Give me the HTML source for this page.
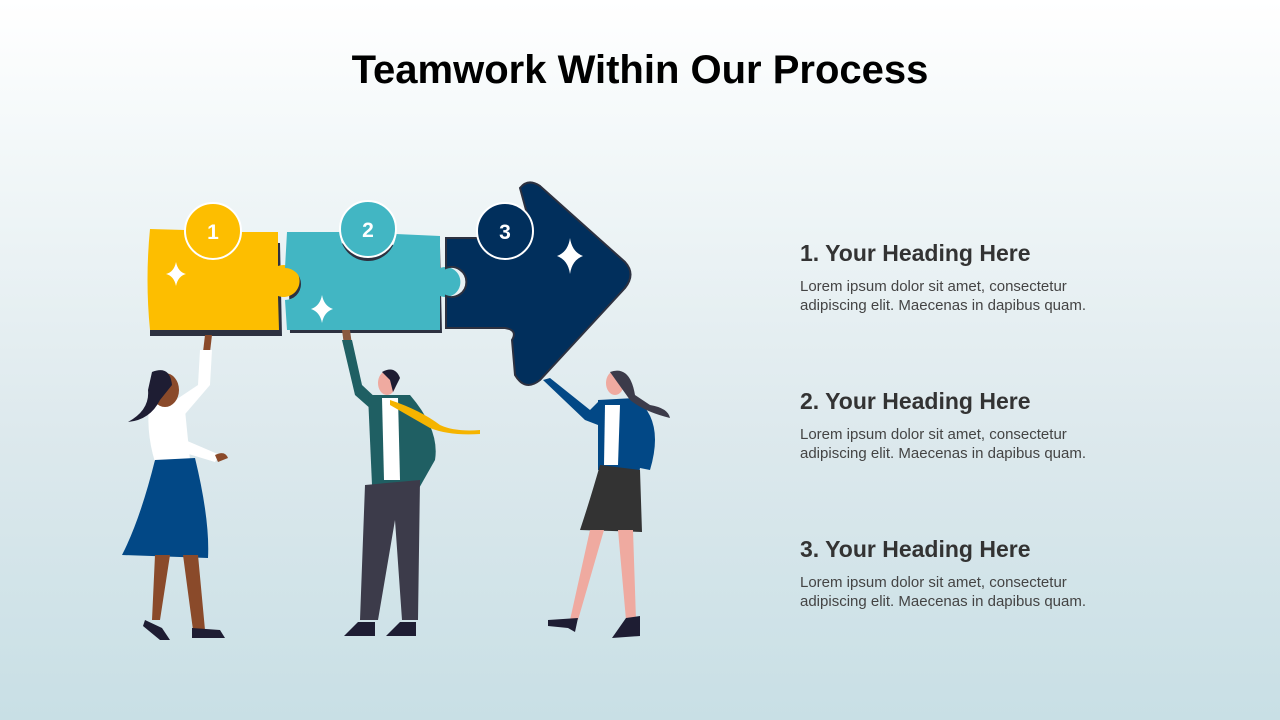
<!DOCTYPE html>
<html><head><style>
body{margin:0;width:1280px;height:720px;overflow:hidden;background:linear-gradient(#ffffff 0%,#f3f8f9 20%,#dde9ed 60%,#c8dfe5 100%);font-family:"Liberation Sans",sans-serif;position:relative}
h1{position:absolute;top:48px;left:0;width:1280px;text-align:center;margin:0;font-size:40px;font-weight:bold;color:#000;}
.item{position:absolute;left:800px;width:325px}
.item h2{margin:0;font-size:23px;font-weight:bold;color:#333;}
.item p{margin:10px 0 0;font-size:15px;line-height:19px;color:#444}
svg{position:absolute;left:0;top:0}
</style></head><body>
<h1>Teamwork Within Our Process</h1>
<svg width="1280" height="720">
<path d="M150 240 L280 243 L282 336 L150 336 Z" fill="#2d3140"/>
<path d="M288 242 L440 246 L442 333 L290 333Z" fill="#2d3140"/>
<path d="M150 229 L185 230 A28 28 0 0 0 240 232 L278 232 L278 266 A16 16 0 1 1 278 296 L279 330 L150 330 Q145 280 150 229Z" fill="#fdbe00"/>
<path d="M287 232 L340 232 A28 28 0 0 0 396 234 L440 236 L440 268 A15 15 0 1 1 440 296 L440 330 L287 330 L285 300 A16 16 0 1 0 285 268Z" fill="#42b6c3"/>
<path d="M446 238 L478 238 A28 28 0 0 0 532 232 L520 188 Q528 178 540 186 L625 262 Q636 274 625 288 L540 380 Q525 392 515 375 L512 340 Q518 330 505 328 L446 328 L446 296 A15 15 0 1 0 446 268Z" fill="#012f5c" stroke="#2d3140" stroke-width="2"/>
<circle cx="213" cy="231" r="28" fill="#fdbe00" stroke="#fff" stroke-width="2"/>
<circle cx="368" cy="229" r="28" fill="#42b6c3" stroke="#fff" stroke-width="2"/>
<circle cx="505" cy="231" r="28" fill="#012f5c" stroke="#fff" stroke-width="2"/>
<g font-family="Liberation Sans" font-weight="bold" font-size="21" fill="#fff" text-anchor="middle">
<text x="213" y="239">1</text><text x="368" y="237">2</text><text x="505" y="239">3</text></g>
<g fill="#fff">
<path d="M176 262 Q178 272 186 274 Q178 276 176 286 Q174 276 166 274 Q174 272 176 262Z"/>
<path d="M322 295 Q324 306 333 309 Q324 312 322 323 Q320 312 311 309 Q320 306 322 295Z"/>
<path d="M570 238 Q572 252 583 256 Q572 260 570 274 Q568 260 557 256 Q568 252 570 238Z"/>
</g>
<path d="M205 335 L212 335 L210 352 L203 352Z" fill="#8a4a2a"/>
<path d="M200 350 L212 350 L210 385 L180 420 L168 405 L198 385Z" fill="#fff"/>
<path d="M150 395 Q175 390 185 410 L190 460 L155 462 Q145 430 150 395Z" fill="#fff"/>
<path d="M185 440 L220 455 L215 462 L182 452Z" fill="#fff"/>
<path d="M215 455 Q225 450 228 458 L218 462Z" fill="#8a4a2a"/>
<ellipse cx="165" cy="390" rx="14" ry="17" fill="#8a4a2a"/>
<path d="M152 372 Q170 365 172 385 L160 400 Q150 420 128 422 Q150 410 148 390Z" fill="#1e1d33"/>
<path d="M155 460 L195 458 Q210 520 208 558 L122 555 Q140 520 155 460Z" fill="#024886"/>
<path d="M155 555 L170 555 L160 620 L152 620Z M183 555 L198 555 L205 630 L193 630Z" fill="#8a4a2a"/>
<path d="M145 620 L162 628 L170 640 L160 640 L143 626Z M192 628 L220 630 L225 638 L192 638Z" fill="#1e1d33"/>
<path d="M342 330 L350 330 L352 345 L344 345Z" fill="#8a5a40"/>
<path d="M342 340 L352 340 L362 385 L378 400 L372 410 L355 395Z" fill="#1f5f63"/>
<path d="M368 395 L410 395 Q440 430 435 460 L418 490 L372 485 Z" fill="#1f5f63"/>
<path d="M382 398 L398 398 L400 480 L384 480Z" fill="#fff"/>
<path d="M390 400 Q420 410 440 425 Q455 432 480 430 L480 434 Q450 436 430 428 L390 405Z" fill="#f5b400"/>
<ellipse cx="387" cy="383" rx="9" ry="12" fill="#efaaa0"/>
<path d="M382 372 Q395 365 400 378 L393 392 L390 380Z" fill="#1e1d33"/>
<path d="M365 485 L420 480 L418 620 L402 620 L395 520 L378 620 L360 620Z" fill="#3c3b4a"/>
<path d="M358 622 L375 622 L375 636 L344 636Z M400 622 L416 622 L416 636 L386 636Z" fill="#1e1d33"/>
<path d="M543 380 L550 378 L590 410 L600 400 L610 410 L598 425 L585 420Z" fill="#024886"/>
<path d="M598 400 L635 398 Q665 420 650 470 L640 468 L638 480 L598 470Z" fill="#024886"/>
<path d="M605 405 L620 405 L618 465 L604 465Z" fill="#fff"/>
<ellipse cx="615" cy="383" rx="9" ry="12" fill="#efaaa0"/>
<path d="M610 372 Q630 365 635 395 L650 405 Q668 408 670 418 Q645 412 630 400Z" fill="#3c3b4a"/>
<path d="M600 465 L640 470 L642 532 L580 530 Q590 500 600 465Z" fill="#333"/>
<path d="M590 530 L604 530 L578 620 L570 620Z M618 530 L633 530 L636 620 L626 620Z" fill="#efaaa0"/>
<path d="M548 620 L578 618 L575 632 L568 628 L548 626Z M626 618 L640 616 L640 636 L612 638Z" fill="#1e1d33"/>
</svg>
<div class="item" style="top:240px"><h2>1. Your Heading Here</h2><p>Lorem ipsum dolor sit amet, consectetur adipiscing elit. Maecenas in dapibus quam.</p></div>
<div class="item" style="top:388px"><h2>2. Your Heading Here</h2><p>Lorem ipsum dolor sit amet, consectetur adipiscing elit. Maecenas in dapibus quam.</p></div>
<div class="item" style="top:536px"><h2>3. Your Heading Here</h2><p>Lorem ipsum dolor sit amet, consectetur adipiscing elit. Maecenas in dapibus quam.</p></div>
</body></html>
